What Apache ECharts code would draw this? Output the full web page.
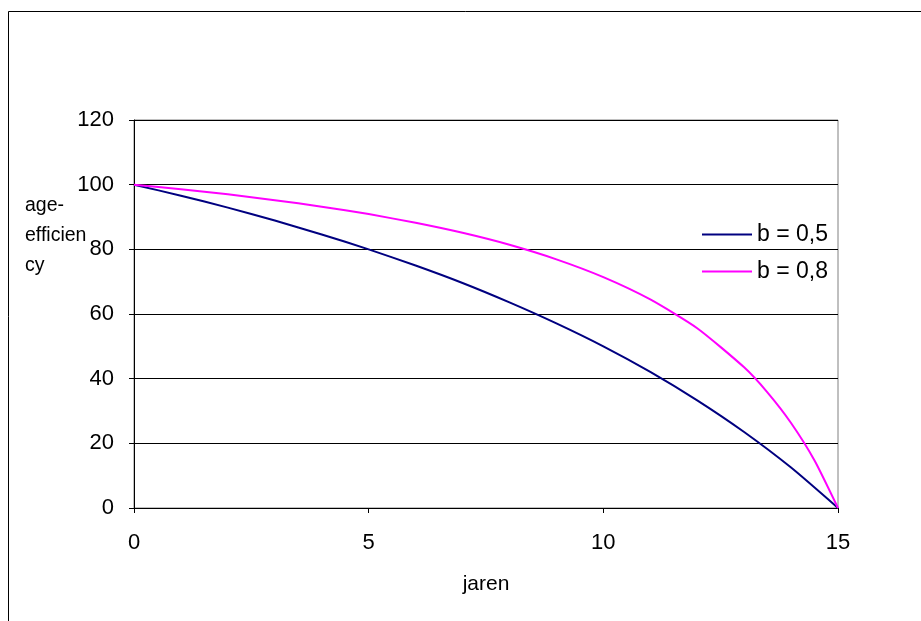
<!DOCTYPE html>
<html>
<head>
<meta charset="utf-8">
<script src="https://cdn.jsdelivr.net/npm/echarts@6/dist/echarts.min.js"></script>
<style>html,body{margin:0;padding:0;background:#fff;}#c{width:921px;height:621px;}</style>
</head>
<body>
<div id="c"></div>
<script>
const xTicks = [0, 5, 10, 15];
const yearsA = [0, 1, 2, 3, 4, 5, 6, 7, 8, 9, 10, 11, 12, 13, 14, 15];
const seriesA = [100, 96.6, 92.9, 88.9, 84.6, 80, 75, 69.6, 63.6, 57.1, 50, 42.1, 33.3, 23.5, 12.5, 0];
const yearsB = [0, 1, 2, 3, 4, 5, 6, 7, 8, 9, 10, 11, 12, 13, 13.5, 14, 14.5, 15];
const seriesB = [100, 98.6, 97.0, 95.2, 93.2, 90.9, 88.2, 85.1, 81.4, 76.9, 71.4, 64.5, 55.6, 43.5, 35.7, 26.3, 14.7, 0];
const names = ['b = 0,5', 'b = 0,8'];
const xTitle = 'jaren';
const yTitle = 'age-\nefficien\ncy';

const font = '"Liberation Sans", Arial, sans-serif';
const chart = echarts.init(document.getElementById('c'), null, {renderer: 'canvas'});
chart.setOption({
  animation: false,
  backgroundColor: '#fff',
  textStyle: {fontFamily: font, color: '#000'},
  grid: {left: 134, right: 83, top: 120, bottom: 113, show: true, borderColor: '#808080', borderWidth: 1},
  graphic: [
    {type: 'rect', shape: {x: 8.5, y: 11.5, width: 1000, height: 1000}, style: {fill: 'none', stroke: '#000', lineWidth: 1}, silent: true},
    {type: 'text', x: 25, y: 191, style: {text: yTitle, font: '19.5px ' + font, fill: '#000', lineHeight: 30}}
  ],
  legend: {
    orient: 'vertical', left: 697, top: 218, itemWidth: 50, itemHeight: 14, itemGap: 14,
    textStyle: {fontSize: 23, fontFamily: font, color: '#000'},
    data: names.map(n => ({name: n, icon: 'path://M0,0L50,0L50,2L0,2Z'}))
  },
  xAxis: {
    type: 'value', min: 0, max: 15, interval: 5,
    name: xTitle, nameLocation: 'middle', nameGap: 66,
    nameTextStyle: {fontSize: 21, fontFamily: font, color: '#000'},
    axisLine: {show: true, lineStyle: {color: '#000', width: 1}},
    axisTick: {show: true, inside: false, length: 5, lineStyle: {color: '#000'}},
    axisLabel: {fontSize: 22, color: '#000', margin: 24, fontFamily: font},
    splitLine: {show: false}
  },
  yAxis: {
    type: 'value', min: 0, max: 120, interval: 20,
    axisLine: {show: true, lineStyle: {color: '#000', width: 1}},
    axisTick: {show: true, inside: false, length: 5, lineStyle: {color: '#000'}},
    axisLabel: {fontSize: 22, color: '#000', margin: 20, fontFamily: font},
    splitLine: {show: true, lineStyle: {color: '#000', width: 1}}
  },
  series: [
    {name: names[0], type: 'line', data: yearsA.map((x, i) => [x, seriesA[i]]), showSymbol: false, symbol: 'none', smooth: 0.2, lineStyle: {color: '#000080', width: 2}, itemStyle: {color: '#000080'}},
    {name: names[1], type: 'line', data: yearsB.map((x, i) => [x, seriesB[i]]), showSymbol: false, symbol: 'none', smooth: 0.2, lineStyle: {color: '#ff00ff', width: 2}, itemStyle: {color: '#ff00ff'}}
  ]
});
</script>
</body>
</html>
